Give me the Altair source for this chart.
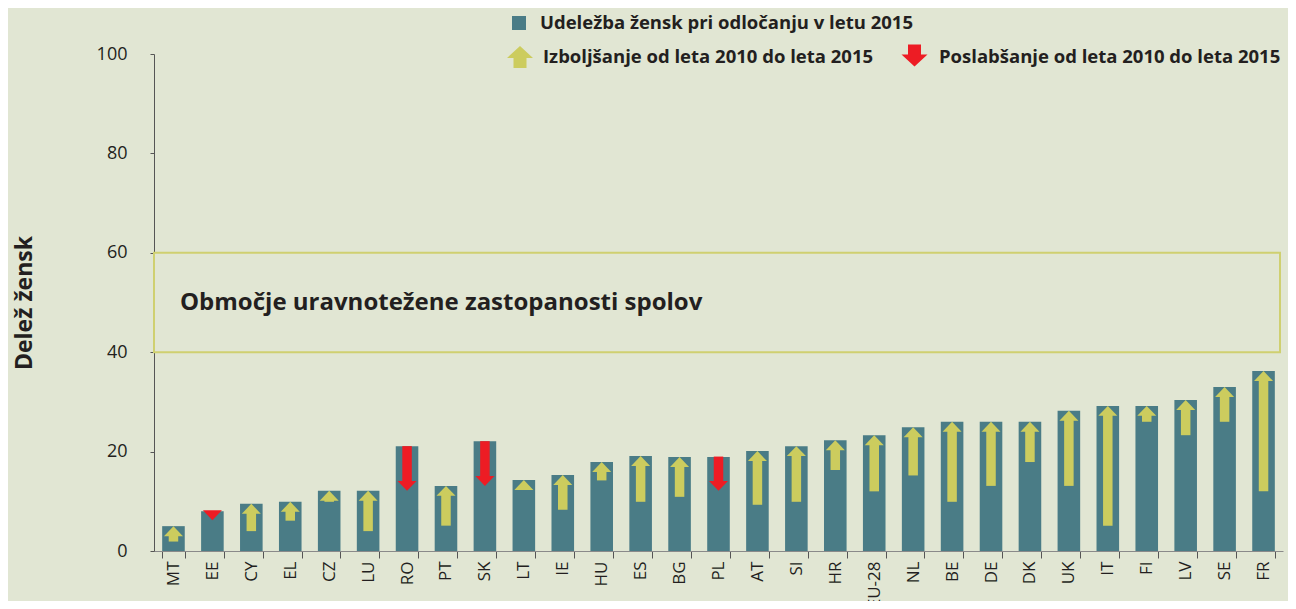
import altair as alt
import pandas as pd

countries = ["MT", "EE", "CY", "EL", "CZ", "LU", "RO", "PT", "SK", "LT", "IE", "HU", "ES", "BG",
             "PL", "AT", "SI", "HR", "EU-28", "NL", "BE", "DE", "DK", "UK", "IT", "FI", "LV", "SE", "FR"]
bar_value = [5.0, 8.0, 9.5, 9.9, 12.1, 12.1, 21.1, 13.1, 22.1, 14.3, 15.3, 17.9, 19.1, 18.9,
             18.9, 20.1, 21.1, 22.3, 23.3, 24.9, 26.0, 26.0, 26.0, 28.2, 29.2, 29.2, 30.4, 33.0, 36.2]
arrow_from = [1.9, 8.0, 4.0, 6.1, 9.9, 4.0, 21.1, 5.1, 22.1, 12.3, 8.3, 14.2, 9.9, 10.9,
              19.0, 9.3, 9.9, 16.3, 12.0, 15.2, 9.9, 13.1, 17.9, 13.1, 5.1, 26.0, 23.3, 26.0, 12.0]
arrow_to = [5.0, 6.2, 9.5, 9.9, 12.1, 12.1, 12.1, 13.1, 13.1, 14.3, 15.3, 17.9, 19.1, 18.9,
            12.1, 20.1, 21.1, 22.3, 23.3, 24.9, 26.0, 26.0, 26.0, 28.2, 29.2, 29.2, 30.4, 33.0, 36.2]
y_ticks = [0, 20, 40, 60, 80, 100]
balance_zone = [40, 60]

legend_bar = "Udeležba žensk pri odločanju v letu 2015"
legend_up = "Izboljšanje od leta 2010 do leta 2015"
legend_down = "Poslabšanje od leta 2010 do leta 2015"
zone_label = "Območje uravnotežene zastopanosti spolov"
y_title = "Delež žensk"

df = pd.DataFrame({"country": countries, "bar": bar_value, "from": arrow_from, "to": arrow_to})
df["dir"] = ["up" if t > f else "down" for f, t in zip(arrow_from, arrow_to)]

BG = "#e1e6d3"
BAR = "#4a7c86"
YEL = "#cccc5e"
RED = "#ed1c24"
FRAME = "#cfd070"
TXT = "#231f20"
FONT = "Open Sans"

W, H = 1129, 497

x_enc = alt.X(
    "country:N", sort=countries,
    scale=alt.Scale(paddingInner=0.42, paddingOuter=0.21),
    axis=alt.Axis(title=None, labelAngle=270, tickBand="extent", tickSize=7, labelPadding=3,
                  labelFontSize=17, labelColor=TXT, labelFont=FONT, domainColor="#8a8a8a",
                  tickColor="#555555", labelAlign="right", labelBaseline="middle"),
)
y_scale = alt.Scale(domain=[0, 100], nice=False)
y_axis = alt.Axis(values=y_ticks, tickSize=4, labelPadding=23, labelFontSize=18, labelColor=TXT,
                  labelFont=FONT, domainColor="#555555", tickColor="#555555", grid=False,
                  title=y_title, titleFont=FONT, titleFontSize=23, titleFontWeight="bold",
                  titleColor=TXT, titleX=-123, titleY=248.5, titleAngle=270,
                  titleAlign="center", titleBaseline="alphabetic")

base = alt.Chart(df)

frame = alt.Chart(pd.DataFrame({"lo": [balance_zone[0]], "hi": [balance_zone[1]]})).mark_rect(
    filled=False, stroke=FRAME, strokeWidth=2
).encode(x=alt.value(0), x2=alt.value(1126), y=alt.Y("lo:Q", scale=y_scale, axis=y_axis), y2="hi:Q")

zone_text = alt.Chart(pd.DataFrame({"t": [zone_label], "v": [50]})).mark_text(
    align="left", baseline="middle", font=FONT, fontSize=24, fontWeight="bold", color=TXT
).encode(x=alt.value(26), y=alt.Y("v:Q", scale=y_scale), text="t:N")

bars = base.mark_bar(color=BAR).encode(x=x_enc, y=alt.Y("bar:Q", scale=y_scale))

up_shaft = base.transform_filter(alt.datum.dir == "up").mark_rule(
    color=YEL, strokeWidth=9.5, y2Offset=9
).encode(x=x_enc, y=alt.Y("from:Q", scale=y_scale), y2="to:Q")
down_shaft = base.transform_filter(alt.datum.dir == "down").mark_rule(
    color=RED, strokeWidth=9.5, y2Offset=-9
).encode(x=x_enc, y=alt.Y("from:Q", scale=y_scale), y2="to:Q")

UP_HEAD = "M -1 1.05 L 1 1.05 L 0 0 Z"
DOWN_HEAD = "M -1 -1.05 L 1 -1.05 L 0 0 Z"
up_head = base.transform_filter(alt.datum.dir == "up").mark_point(
    shape=UP_HEAD, filled=True, size=361, color=YEL, opacity=1, strokeWidth=0
).encode(x=x_enc, y=alt.Y("to:Q", scale=y_scale))
down_head = base.transform_filter(alt.datum.dir == "down").mark_point(
    shape=DOWN_HEAD, filled=True, size=361, color=RED, opacity=1, strokeWidth=0
).encode(x=x_enc, y=alt.Y("to:Q", scale=y_scale))

# legend
one = pd.DataFrame({"k": [0]})
UP_ARROW = "M 0 -0.85 L 1 0.07 L 0.5 0.07 L 0.5 0.85 L -0.5 0.85 L -0.5 0.07 L -1 0.07 Z"
DOWN_ARROW = "M 0 0.85 L 1 -0.07 L 0.5 -0.07 L 0.5 -0.85 L -0.5 -0.85 L -0.5 -0.07 L -1 -0.07 Z"
leg_sq = alt.Chart(one).mark_point(shape="square", filled=True, size=196, color=BAR, opacity=1,
                                   strokeWidth=0).encode(x=alt.value(365), y=alt.value(-31))
leg_up = alt.Chart(one).mark_point(shape=UP_ARROW, filled=True, size=676, color=YEL, opacity=1,
                                   strokeWidth=0).encode(x=alt.value(366), y=alt.value(3))
leg_down = alt.Chart(one).mark_point(shape=DOWN_ARROW, filled=True, size=676, color=RED, opacity=1,
                                     strokeWidth=0).encode(x=alt.value(760.5), y=alt.value(1.5))


def leg_text(label, px, py):
    return alt.Chart(pd.DataFrame({"t": [label]})).mark_text(
        align="left", baseline="middle", font=FONT, fontSize=18.5, fontWeight="bold", color=TXT
    ).encode(x=alt.value(px), y=alt.value(py), text="t:N")


chart = alt.layer(
    frame, zone_text, bars, up_shaft, down_shaft, up_head, down_head,
    leg_sq, leg_up, leg_down,
    leg_text(legend_bar, 386, -31), leg_text(legend_up, 389, 3), leg_text(legend_down, 785, 3),
).properties(
    width=W, height=H,
    padding={"left": 146, "top": 46, "right": 5, "bottom": 50},
    autosize=alt.AutoSizeParams(type="none"),
    background=BG,
).configure_view(stroke=None)

chart.save("out.html", embed_options={"renderer": "svg", "actions": False})
